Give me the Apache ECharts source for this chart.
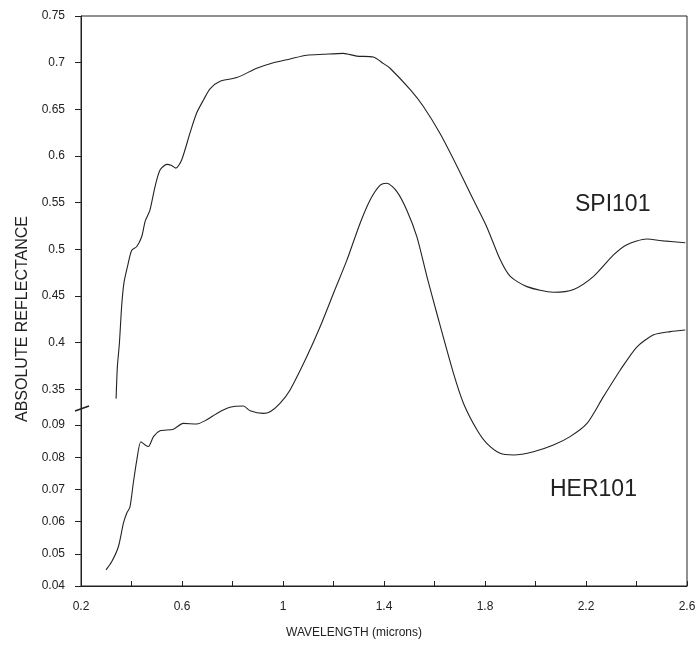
<!DOCTYPE html>
<html>
<head>
<meta charset="utf-8">
<script src="https://cdn.jsdelivr.net/npm/echarts@6/dist/echarts.min.js"></script>
<style>html,body{margin:0;padding:0;background:#fff;}#c{width:699px;height:652px;}</style>
</head>
<body>
<div id="c"></div>
<script>
// Wavelength (microns) and reflectance
const spiX = [0.339,0.344,0.352,0.361,0.370,0.387,0.401,0.421,0.441,0.454,0.473,0.493,0.513,0.540,0.557,0.576,0.599,0.632,0.658,0.685,0.711,0.751,0.817,0.896,0.962,1.028,1.094,1.160,1.239,1.292,1.358,1.398,1.424,1.504,1.556,1.622,1.689,1.754,1.807,1.860,1.900,1.966,2.071,2.151,2.230,2.309,2.362,2.441,2.507,2.593];
const spiY = [0.340,0.374,0.399,0.439,0.464,0.485,0.499,0.503,0.514,0.530,0.542,0.567,0.585,0.591,0.590,0.587,0.596,0.625,0.646,0.660,0.672,0.680,0.684,0.694,0.700,0.704,0.708,0.709,0.710,0.707,0.706,0.699,0.694,0.671,0.653,0.624,0.589,0.553,0.524,0.489,0.471,0.460,0.454,0.457,0.471,0.494,0.505,0.511,0.509,0.507];

const herX = [0.299,0.322,0.348,0.368,0.381,0.394,0.407,0.421,0.437,0.454,0.467,0.487,0.513,0.566,0.605,0.658,0.698,0.738,0.790,0.843,0.870,0.922,0.949,0.988,1.028,1.094,1.147,1.200,1.253,1.305,1.345,1.385,1.411,1.451,1.490,1.530,1.570,1.609,1.675,1.715,1.768,1.807,1.860,1.913,1.992,2.071,2.137,2.204,2.269,2.336,2.402,2.468,2.534,2.593];
const herY = [0.0450,0.0476,0.0522,0.0595,0.0626,0.0646,0.0719,0.0791,0.0848,0.0838,0.0833,0.0864,0.0882,0.0887,0.0905,0.0903,0.0916,0.0936,0.0955,0.0959,0.0944,0.0936,0.0941,0.0967,0.1009,0.1112,0.1205,0.1309,0.1412,0.1526,0.1599,0.1645,0.1651,0.1625,0.1568,0.1485,0.1361,0.1247,0.1061,0.0967,0.0885,0.0843,0.0812,0.0807,0.0817,0.0838,0.0864,0.0905,0.0988,0.1071,0.1143,0.1180,0.1190,0.1195];

const xLabelValues = [0.2,0.6,1.0,1.4,1.8,2.2,2.6];
const upperTicks = [0.35,0.4,0.45,0.5,0.55,0.6,0.65,0.7,0.75];
const lowerTicks = [0.04,0.05,0.06,0.07,0.08,0.09];

const FONT = 'Liberation Sans';
const INK = '#222';
const fmt = v => String(+(+v).toFixed(2));

// plot geometry
const gLeft = 81, gTop = 16, gRight = 12, gBottom = 66;
const plotH = 652 - gTop - gBottom;          // 570 px
const upperPxPerUnit = 933.2;                // 0.05 -> 46.66 px
const lowerPxPerUnit = 3220;                 // 0.01 -> 32.2 px
const upperMin = 0.75 - plotH / upperPxPerUnit;
const lowerMax = 0.04 + plotH / lowerPxPerUnit;

const chart = echarts.init(document.getElementById('c'), null, {renderer: 'canvas'});
const pairs = (xs, ys) => xs.map((x, i) => [x, ys[i]]);

chart.setOption({
  backgroundColor: '#fff',
  animation: false,
  grid: {left: gLeft, top: gTop, right: gRight, bottom: gBottom, show: true, borderColor: INK, borderWidth: 1, containLabel: false},
  xAxis: {
    type: 'value', min: 0.2, max: 2.6, interval: 0.2,
    axisLine: {show: true, lineStyle: {color: INK, width: 1}},
    axisTick: {show: true, inside: true, length: 5, lineStyle: {color: INK}},
    axisLabel: {customValues: xLabelValues, formatter: fmt, margin: 15, fontFamily: FONT, fontSize: 12, color: INK},
    splitLine: {show: false}
  },
  yAxis: [
    {
      type: 'value', min: upperMin, max: 0.75, position: 'left',
      axisLine: {show: true, lineStyle: {color: INK, width: 1}},
      axisTick: {show: true, customValues: upperTicks, length: 6, lineStyle: {color: INK}},
      axisLabel: {customValues: upperTicks, formatter: fmt, margin: 16, fontFamily: FONT, fontSize: 12, color: INK},
      splitLine: {show: false}
    },
    {
      type: 'value', min: 0.04, max: lowerMax, position: 'left', offset: 0,
      axisLine: {show: false},
      axisTick: {show: true, customValues: lowerTicks, length: 6, lineStyle: {color: INK}},
      axisLabel: {customValues: lowerTicks, formatter: fmt, margin: 16, fontFamily: FONT, fontSize: 12, color: INK},
      splitLine: {show: false}
    }
  ],
  series: [
    {name: 'SPI101', type: 'line', yAxisIndex: 0, data: pairs(spiX, spiY), showSymbol: false, smooth: 0.25,
     lineStyle: {color: INK, width: 1.1}, clip: false},
    {name: 'HER101', type: 'line', yAxisIndex: 1, data: pairs(herX, herY), showSymbol: false, smooth: 0.25,
     lineStyle: {color: INK, width: 1.1}, clip: false}
  ],
  graphic: [
    {type: 'text', x: 23, y: 319, rotation: Math.PI / 2,
     style: {text: 'ABSOLUTE REFLECTANCE', fontFamily: FONT, fontSize: 16, fill: INK, align: 'center', verticalAlign: 'middle'}},
    {type: 'text', x: 354, y: 633,
     style: {text: 'WAVELENGTH (microns)', fontFamily: FONT, fontSize: 12, fill: INK, align: 'center', verticalAlign: 'middle'}},
    {type: 'text', x: 575, y: 205,
     style: {text: 'SPI101', fontFamily: FONT, fontSize: 23, fill: INK, align: 'left', verticalAlign: 'middle'}},
    {type: 'text', x: 550, y: 490,
     style: {text: 'HER101', fontFamily: FONT, fontSize: 23, fill: INK, align: 'left', verticalAlign: 'middle'}},
    {type: 'line', shape: {x1: 75, y1: 411, x2: 89, y2: 406}, style: {stroke: INK, lineWidth: 1.5}}
  ]
});
</script>
</body>
</html>
